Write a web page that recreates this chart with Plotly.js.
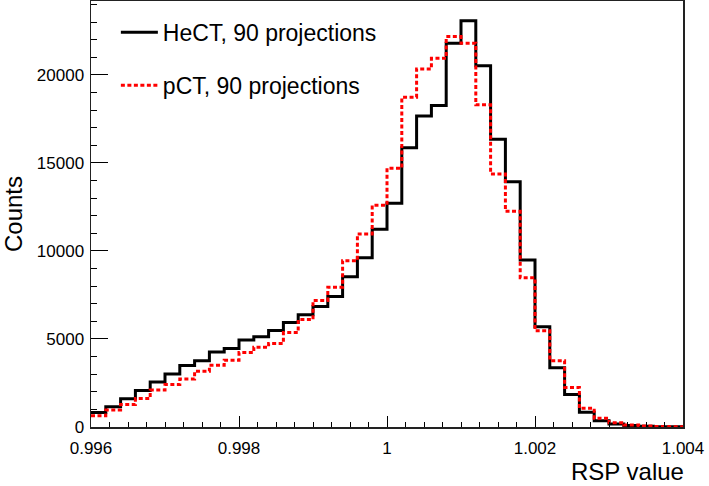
<!DOCTYPE html>
<html>
<head>
<meta charset="utf-8">
<script src="https://cdn.plot.ly/plotly-3.0.1.min.js"></script>
<style>
html,body{margin:0;padding:0;background:#fff;}
#chart{width:709px;height:486px;}
</style>
</head>
<body>
<div id="chart"></div>
<script>
// Histogram binning (RSP value)
const binLow = 0.996;
const binWidth = 0.0002;

// Counts per bin, HeCT, 90 projections
const hectCounts = [820, 1150, 1610, 2070, 2550, 3010, 3490, 3760, 4260, 4460,
                    4940, 5130, 5480, 5930, 6380, 6850, 7410, 8540, 9620, 11240,
                    12710, 15870, 17670, 18270, 21800, 23080, 20520, 16350, 13930, 9490,
                    5700, 3370, 1850, 835, 360, 175, 80, 40, 20, 10];

// Counts per bin, pCT, 90 projections
const pctCounts = [640, 965, 1280, 1620, 2100, 2410, 2720, 3170, 3510, 3790,
                   4230, 4530, 4750, 5370, 6100, 7190, 7940, 9450, 10970, 12600,
                   14700, 18730, 20340, 20950, 22180, 21800, 18300, 14375, 12250, 8480,
                   5470, 3770, 2250, 1060, 490, 245, 110, 60, 30, 15];

const seriesNames = ["HeCT, 90 projections", "pCT, 90 projections"];
const xTickVals = [0.996, 0.998, 1.000, 1.002, 1.004];
const xTickLabels = ["0.996", "0.998", "1", "1.002", "1.004"];
const yTickVals = [0, 5000, 10000, 15000, 20000];
const yTickLabels = ["0", "5000", "10000", "15000", "20000"];

const edges = [];
for (let i = 0; i <= hectCounts.length; i++) edges.push(+(binLow + i * binWidth).toFixed(5));
const stepY = c => c.concat([c[c.length - 1]]);

const FONT = "Liberation Sans, Arial, Helvetica, sans-serif";

const traces = [
  {
    type: "scatter", mode: "lines", name: seriesNames[0], legendgroup: "a",
    x: edges, y: stepY(hectCounts),
    line: {shape: "hv", color: "#000000", width: 3}
  },
  {
    type: "scatter", mode: "lines", name: seriesNames[1], legendgroup: "b",
    x: edges, y: stepY(pctCounts),
    line: {shape: "hv", color: "#ff0000", width: 3, dash: "4px,2.5px"}
  }
];

const layout = {
  width: 709, height: 486,
  margin: {l: 91, r: 26, t: 1, b: 59, pad: 0},
  paper_bgcolor: "#ffffff", plot_bgcolor: "#ffffff",
  font: {family: FONT, color: "#000", size: 17},
  showlegend: true,
  legend: {
    x: 0.042, y: 0.977, xanchor: "left", yanchor: "top",
    bgcolor: "rgba(0,0,0,0)", borderwidth: 0,
    font: {family: FONT, size: 23, color: "#000"},
    itemwidth: 37,
    traceorder: "grouped", tracegroupgap: 20
  },
  xaxis: {
    range: [0.996, 1.004], autorange: false,
    showgrid: false, zeroline: false,
    showline: true, mirror: true, linecolor: "#222", linewidth: 1.5,
    ticks: "inside", ticklen: 11, tickwidth: 1, tickcolor: "#000",
    tickmode: "array", tickvals: xTickVals, ticktext: xTickLabels,
    tickfont: {family: FONT, size: 17, color: "#000"},
    ticklabelstandoff: 5,
    minor: {tickmode: "linear", tick0: 0.996, dtick: 0.00025, ticks: "inside", ticklen: 5, tickwidth: 1, tickcolor: "#000"}
  },
  yaxis: {
    range: [0, 24200], autorange: false,
    showgrid: false, zeroline: false,
    showline: true, mirror: true, linecolor: "#222", linewidth: 1.5,
    ticks: "inside", ticklen: 17, tickwidth: 1, tickcolor: "#000",
    tickmode: "array", tickvals: yTickVals, ticktext: yTickLabels,
    tickfont: {family: FONT, size: 17, color: "#000"},
    ticklabelstandoff: 2,
    minor: {tickmode: "linear", tick0: 0, dtick: 1000, ticks: "inside", ticklen: 6, tickwidth: 1, tickcolor: "#000"},
    title: {text: "Counts", font: {family: FONT, size: 24, color: "#000"}, standoff: 12}
  },
  annotations: [
    {
      text: "RSP value", xref: "paper", yref: "paper",
      x: 1, y: -0.068, xanchor: "right", yanchor: "top", showarrow: false,
      xshift: 3,
      font: {family: FONT, size: 24, color: "#000"}
    }
  ]
};

Plotly.newPlot("chart", traces, layout, {displayModeBar: false, staticPlot: true});
</script>
</body>
</html>
